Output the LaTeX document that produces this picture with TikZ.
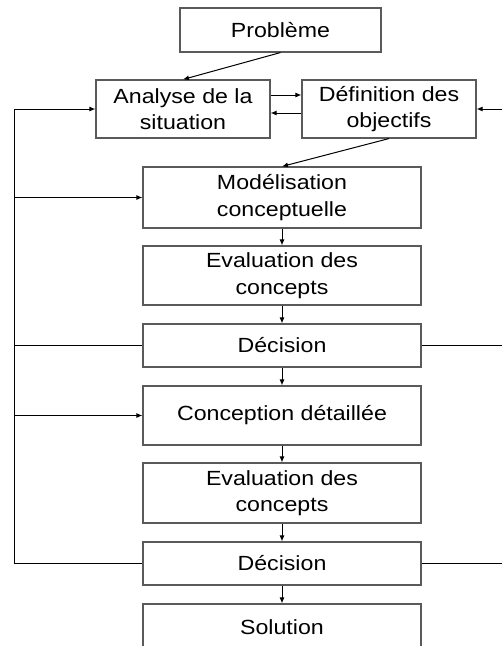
\documentclass[tikz,border=0pt]{standalone}
\usepackage{fontspec}
\setmainfont{Liberation Sans}[FakeStretch=1.13]
\usepackage{tikz}
\usetikzlibrary{arrows.meta}
\usepackage{xcolor}
\definecolor{boxgray}{RGB}{90,90,90}

\begin{document}
\begin{tikzpicture}[x=1pt, y=-1pt]
  \tikzstyle{mybox}=[draw=boxgray, line width=1.1pt, fill=white, align=center,
    inner sep=0pt, font=\fontsize{20.5}{26.5}\selectfont];
  \tikzstyle{myline}=[line width=1pt];
  \tikzstyle{myconn}=[myline, ->, >={Latex[length=6pt, width=5pt]}];
  %
  \useasboundingbox (0, 0) rectangle (502, 646);
  \clip (0, 0) rectangle (502, 646);
  %
  % problem and analysis
  \node[mybox, minimum width=201pt, minimum height=44pt] (probleme) at (280.5, 30) {Problème};
  \node[mybox, minimum width=174pt, minimum height=58pt] (analyse) at (183, 109)
    {Analyse de la\\situation};
  \node[mybox, minimum width=174pt, minimum height=58pt] (definition) at (389, 109)
    {Définition des\\objectifs};
  %
  % design steps
  \node[mybox, minimum width=278pt, minimum height=61pt] (modelisation) at (282, 197.5)
    {Modélisation\\conceptuelle};
  \node[mybox, minimum width=278pt, minimum height=59pt] (evalA) at (282, 275.5)
    {Evaluation des\\concepts};
  \node[mybox, minimum width=278pt, minimum height=43pt] (decisionA) at (282, 345.5)
    {Décision};
  \node[mybox, minimum width=278pt, minimum height=59pt] (conception) at (282, 415.5)
    {Conception détaillée};
  \node[mybox, minimum width=278pt, minimum height=60pt] (evalB) at (282, 493)
    {Evaluation des\\concepts};
  \node[mybox, minimum width=278pt, minimum height=43pt] (decisionB) at (282, 563.5)
    {Décision};
  \node[mybox, minimum width=278pt, minimum height=46pt] (solution) at (282, 627)
    {Solution};
  %
  % feedback ends
  \coordinate (backA) at (14, 345.5);
  \coordinate (backB) at (14, 563.5);
  \coordinate (rightA) at (502, 345.5);
  \coordinate (rightB) at (502, 563.5);
  \coordinate (rightTop) at (502, 109);
  %
  % main flow
  \draw[myconn] (probleme.south) -- (analyse.north);
  \draw[myconn] ([yshift=14pt]analyse.east) -- ([yshift=14pt]definition.west);
  \draw[myconn] ([yshift=-4pt]definition.west) -- ([yshift=-4pt]analyse.east);
  \draw[myconn] (definition.south) -- (modelisation.north);
  \foreach \a/\b in {modelisation/evalA, evalA/decisionA, decisionA/conception,
    conception/evalB, evalB/decisionB, decisionB/solution}
    \draw[myconn] (\a.south) -- (\b.north);
  %
  % loops back
  \draw[myconn] (decisionA.west) -- (backA) |- (analyse.west);
  \draw[myconn] (decisionB.west) -- (backB) |- (modelisation.west);
  \draw[myconn] (backB) |- (conception.west);
  \draw[myline] (decisionA.east) -- (rightA);
  \draw[myline] (decisionB.east) -- (rightB);
  \draw[myconn] (rightTop) -- (definition.east);
\end{tikzpicture}
\end{document}
